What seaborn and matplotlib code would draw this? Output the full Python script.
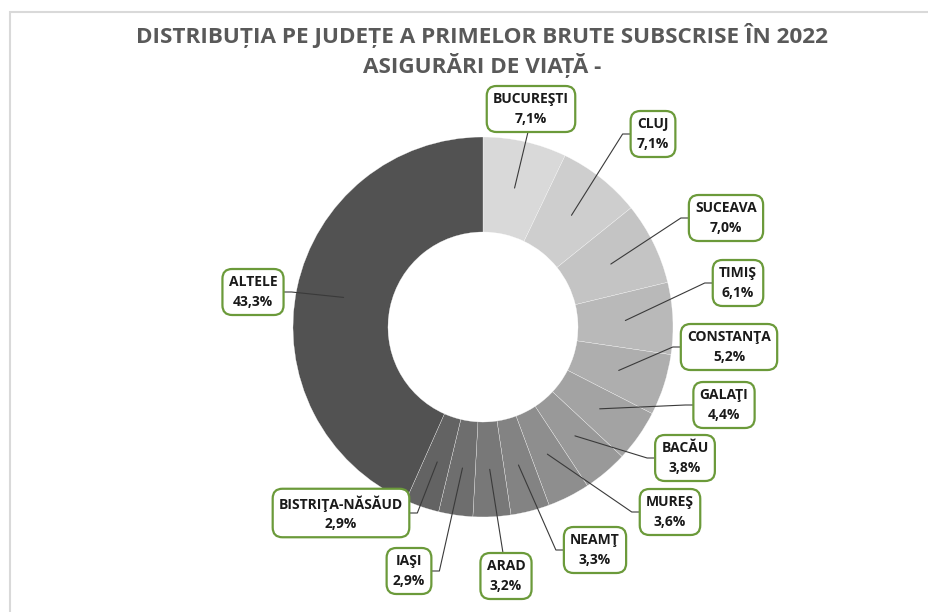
import matplotlib
matplotlib.use("Agg")
import matplotlib.pyplot as plt
import seaborn as sns
import numpy as np
from matplotlib.patches import Rectangle

# ---- data ----
judete = ["BUCUREŞTI", "CLUJ", "SUCEAVA", "TIMIŞ", "CONSTANŢA", "GALAŢI", "BACĂU",
          "MUREŞ", "NEAMŢ", "ARAD", "IAŞI", "BISTRIŢA-NĂSĂUD", "ALTELE"]
procente = [7.1, 7.1, 7.0, 6.1, 5.2, 4.4, 3.8, 3.6, 3.3, 3.2, 2.9, 2.9, 43.3]
titlu = ["DISTRIBUȚIA PE JUDEȚE A PRIMELOR BRUTE SUBSCRISE ÎN 2022",
         "ASIGURĂRI DE VIAȚĂ -"]

# ---- layout (pixel positions of label boxes, top-left origin) ----
W, H = 929, 612
label_pos = [(531, 109), (653, 134), (726, 218), (738, 283), (729, 347), (724, 405),
             (685, 458), (670, 512), (595, 550), (506, 576), (409, 571), (341, 513),
             (253, 292)]
CX, CY, R = 483, H - 327, 190
TITLE_X = 482

sns.set_theme(style="white")
plt.rcParams['font.family'] = ['Open Sans', 'DejaVu Sans']

fig = plt.figure(figsize=(W / 100, H / 100), dpi=100)
fig.patch.set_facecolor("white")
ax = fig.add_axes([0, 0, 1, 1])

culori = sns.blend_palette(["#d9d9d9", "#636363"], 12) + ["#525252"]

ax.pie(procente, colors=culori, startangle=90, counterclock=False,
       center=(CX, CY), radius=R,
       wedgeprops=dict(width=R * 0.5, edgecolor="white", linewidth=0.2))
ax.set_xlim(0, W)
ax.set_ylim(0, H)
ax.set_aspect("auto")
ax.axis("off")

# chart-area border
ax.add_patch(Rectangle((10, -50), W + 50, H - 12 + 50, facecolor="none",
                       edgecolor="#d9d9d9", linewidth=1.5))

# title
for i, line in enumerate(titlu):
    ax.text(TITLE_X, H - (35 + 30 * i), line, ha="center", va="center",
            fontsize=16.2, fontweight="bold", color="#595959")

# labels
texts = []
for name, val, (px, py) in zip(judete, procente, label_pos):
    lab = f"{name}\n{val:.1f}%".replace(".", ",")
    t = ax.text(px, H - py, lab, ha="center", va="center", fontsize=10,
                fontweight="bold", color="#1a1a1a", linespacing=1.5,
                bbox=dict(boxstyle="round,pad=0.45,rounding_size=0.7",
                          facecolor="white", edgecolor="#6b9a3a", linewidth=1.6),
                zorder=5)
    texts.append(t)

fig.canvas.draw()
renderer = fig.canvas.get_renderer()

total = sum(procente)
cum = 0.0
for val, t in zip(procente, texts):
    mid = (cum + val / 2) / total * 2 * np.pi
    cum += val
    axx = CX + 0.75 * R * np.sin(mid)
    axy = CY + 0.75 * R * np.cos(mid)
    bb = t.get_bbox_patch().get_window_extent(renderer)
    inv = ax.transData.inverted()
    (x0, y0), (x1, y1) = inv.transform([(bb.x0, bb.y0), (bb.x1, bb.y1)])
    bcx, bcy = (x0 + x1) / 2, (y0 + y1) / 2
    if x0 <= axx <= x1:
        ey = y0 if bcy > axy else y1
        xs, ys = [axx, bcx - 3], [axy, ey]
    else:
        if bcx > axx:
            side, elb = x0, x0 - 8
        else:
            side, elb = x1, x1 + 8
        xs, ys = [axx, elb, side], [axy, bcy, bcy]
    ax.plot(xs, ys, color="#3a3a3a", linewidth=0.8, zorder=4)

fig.savefig("out.png", dpi=100, facecolor="white")
